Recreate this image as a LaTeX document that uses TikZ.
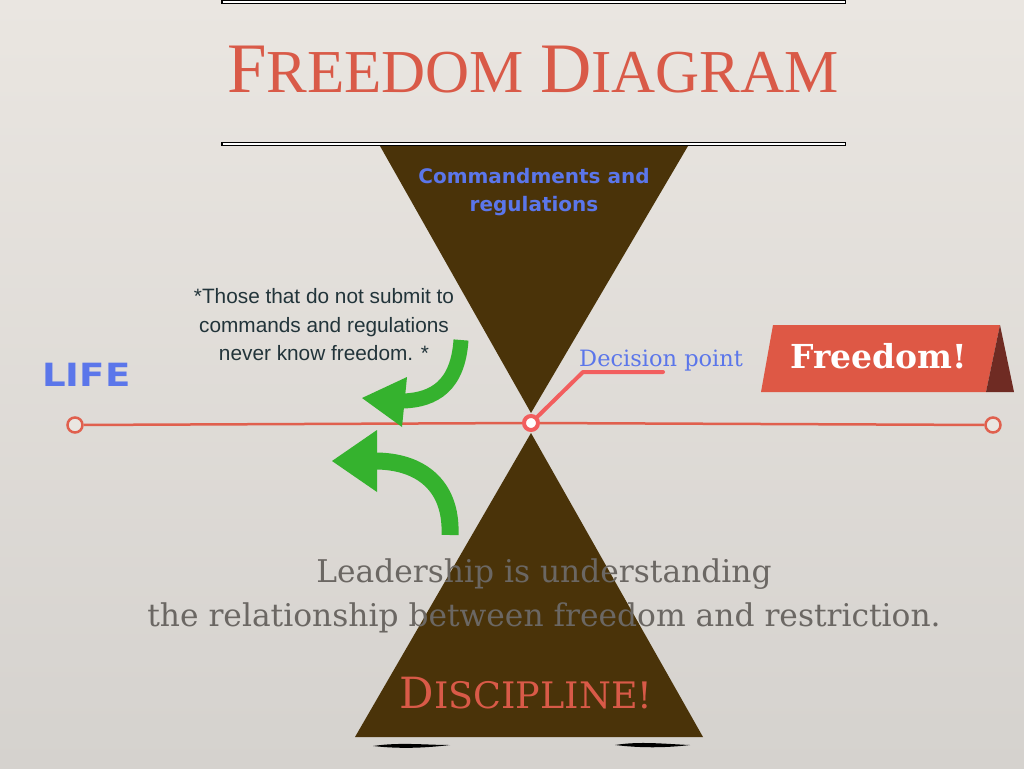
\documentclass[tikz,border=0pt]{standalone}
\usepackage{fontspec}
\usepackage{tikz}
\usetikzlibrary{positioning}
\newfontfamily\titlefont{Liberation Serif}
\newfontfamily\notefont{Liberation Sans}
\newfontfamily\slabfont{DejaVu Serif}
\newfontfamily\heavyfont{DejaVu Sans}
\definecolor{bgtop}{HTML}{EAE6E1}
\definecolor{bgbottom}{HTML}{D5D2CE}
\definecolor{hourglass}{HTML}{4A3309}
\definecolor{titlered}{HTML}{D95A48}
\definecolor{lifered}{HTML}{E0604E}
\definecolor{pointpink}{HTML}{F25E5E}
\definecolor{labelblue}{HTML}{5B76EA}
\definecolor{arrowgreen}{HTML}{35B22E}
\definecolor{notedark}{HTML}{22343A}
\definecolor{mottogrey}{HTML}{6B6763}
\definecolor{bannerred}{HTML}{DE5845}
\definecolor{bannerdark}{HTML}{6F2B23}

\begin{document}
\begin{tikzpicture}[x=1pt, y=-1pt,
		glass/.style={fill=hourglass},
		endring/.style={circle, draw=lifered, line width=2.5pt, fill=bgtop, minimum size=15pt, inner sep=0pt},
		greenband/.style={draw=arrowgreen, line width=15pt},
		greenhead/.style={fill=arrowgreen}]
		\fill[top color=bgtop, bottom color=bgbottom] (0,0) rectangle (1024,768);
		\useasboundingbox (0,0) rectangle (1024,768);
		\foreach \y in {2,144}{
			\draw[line width=4.5pt, black] (221,\y) -- (846,\y);
			\draw[line width=1.2pt, white] (222.5,\y) -- (844.5,\y);
		}
		\node[titlered, anchor=base] (title) at (533,92) {\titlefont{\fontsize{71}{71}\selectfont F}{\fontsize{61}{61}\selectfont REEDOM}\hspace{16pt}{\fontsize{71}{71}\selectfont D}{\fontsize{61}{61}\selectfont IAGRAM}};
		\coordinate (TL) at (380,146);
		\coordinate (TR) at (688,146);
		\coordinate (TA) at (531,413);
		\coordinate (BA) at (531,433);
		\coordinate (BL) at (355,737);
		\coordinate (BR) at (703,737);
		\fill[glass] (TL) -- (TR) -- (TA) -- cycle;
		\fill[glass] (BA) -- (BR) -- (BL) -- cycle;
		\fill[black] (373,746) .. controls (400,742) and (425,745) .. (450,745) .. controls (425,748) and (400,749) .. (373,746);
		\fill[black] (615,745) .. controls (640,741) and (665,744) .. (690,745) .. controls (665,748) and (640,748) .. (615,745);
		\node[labelblue, align=center, font=\heavyfont\bfseries\fontsize{20}{28}\selectfont] (rules) at (534,192) {Commandments and\\regulations};
		\node[endring] (L) at (75,425) {};
		\node[endring] (R) at (993,425) {};
		\node[circle, draw=pointpink, line width=4pt, fill=white, minimum size=14pt, inner sep=0pt] (D) at (531,423) {};
		\draw[lifered, line width=2.5pt] (L) -- (D) -- (R);
		\coordinate (K) at (583,372);
		\coordinate (E) at (663,372);
		\draw[pointpink, line width=4pt, line cap=round, line join=round] (D) -- (K) -- (E);
		\node[labelblue, anchor=base west, inner sep=0pt, font=\slabfont\fontsize{22.5}{22.5}\selectfont] (dec) at (579,366) {Decision point};
		\fill[bannerred] (773,325) -- (1000,325) -- (986,392) -- (761,392) -- cycle;
		\fill[bannerdark] (1000,325) -- (1014,392) -- (986,392) -- cycle;
		\node[white, anchor=base, inner sep=0pt, font=\slabfont\bfseries\fontsize{33}{33}\selectfont] (free) at (879,368) {Freedom!};
		\node[labelblue, anchor=base west, inner sep=0pt, font=\heavyfont\bfseries\fontsize{32}{32}\selectfont] (life) at (42,386) {\scalebox{1.16}[1]{LIFE}};
		\node[notedark, align=center, font=\notefont\fontsize{20.8}{28.5}\selectfont] (note) at (324,325) {*Those that do not submit to\\commands and regulations\\never know freedom. *};
		\draw[greenband] (461,340) .. controls (458,385) and (435,400) .. (403,401);
		\fill[greenhead] (362,398) -- (407,377) -- (402,427) -- cycle;
		\draw[greenband, line width=17pt] (450,535) .. controls (452,485) and (420,461) .. (375,461);
		\fill[greenhead] (332,461) -- (377,430) -- (377,492) -- cycle;
		\node[mottogrey, align=center, font=\slabfont\fontsize{31.3}{44}\selectfont] (motto) at (544,596) {Leadership is understanding\\the relationship between freedom and restriction.};
		\node[titlered, anchor=base, inner sep=0pt, font=\slabfont] (disc) at (526,708) {{\fontsize{43}{43}\selectfont D}{\fontsize{36.5}{36.5}\selectfont ISCIPLINE!}};
	\end{tikzpicture}
\end{document}
